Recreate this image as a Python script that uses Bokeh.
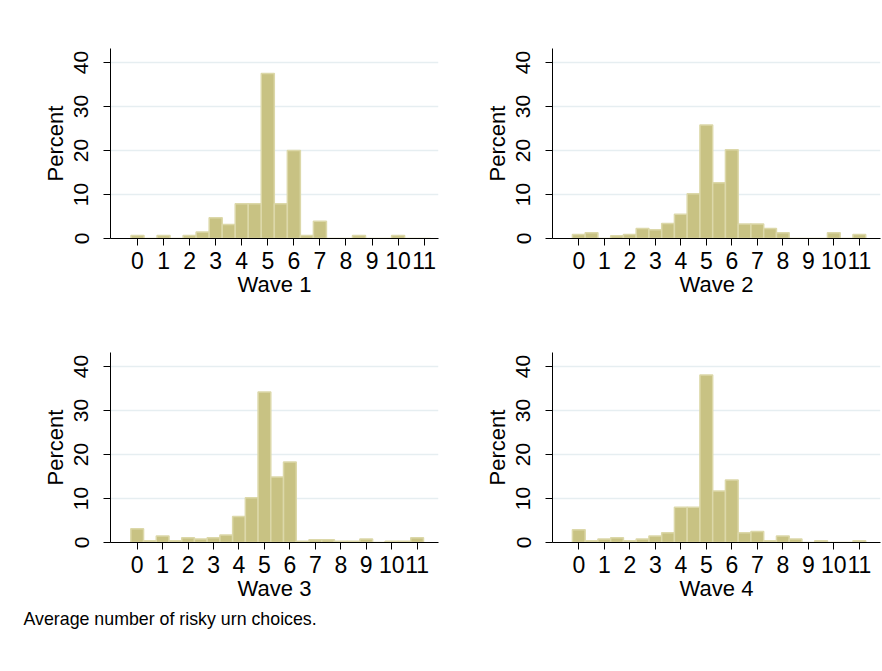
from bokeh.plotting import figure
from bokeh.models import Range1d, FixedTicker, Label
from bokeh.layouts import column, row
from bokeh.embed import file_html
from bokeh.resources import INLINE

# Bin centres (bin width 0.5) of the average number of risky urn choices
centers = [0, 0.5, 1, 1.5, 2, 2.5, 3, 3.5, 4, 4.5, 5, 5.5, 6, 6.5, 7, 7.5, 8, 8.5, 9, 9.5, 10, 10.5, 11]

wave1 = [0.7, 0, 0.7, 0, 0.7, 1.5, 4.7, 3.2, 7.9, 7.9, 37.5, 7.9, 20.0, 0.7, 3.9, 0, 0, 0.7, 0, 0, 0.7, 0, 0]
wave2 = [0.9, 1.3, 0, 0.6, 0.9, 2.3, 2.0, 3.4, 5.5, 10.2, 25.8, 12.7, 20.2, 3.3, 3.3, 2.3, 1.3, 0, 0, 0, 1.3, 0, 0.9]
wave3 = [3.1, 0.4, 1.5, 0.4, 1.1, 0.8, 1.1, 1.7, 5.9, 10.2, 34.2, 14.9, 18.3, 0.3, 0.6, 0.6, 0.3, 0.3, 0.8, 0, 0.3, 0.3, 1.1]
wave4 = [2.9, 0.4, 0.8, 1.1, 0.4, 0.8, 1.5, 2.2, 8.0, 8.0, 38.1, 11.7, 14.2, 2.2, 2.5, 0.4, 1.5, 0.8, 0, 0.4, 0, 0, 0.4]

titles = ["Wave 1", "Wave 2", "Wave 3", "Wave 4"]
x_ticks = list(range(0, 12))
y_ticks = [0, 10, 20, 30, 40]
y_label = "Percent"
caption = "Average number of risky urn choices."

FONT = "Liberation Sans"
BAR_FILL = "#C8C283"
BAR_LINE = "#DCD8A9"
GRID = "#E6EEF1"


def panel(vals, title, xr, w, h, bl, br, bt, bb):
    p = figure(width=w, height=h, x_range=Range1d(*xr), y_range=Range1d(0, 43.2),
               output_backend="svg", toolbar_location=None,
               min_border_left=bl, min_border_right=br,
               min_border_top=bt, min_border_bottom=bb)
    p.outline_line_color = None
    p.background_fill_color = "white"
    p.border_fill_color = "white"
    p.vbar(x=centers, top=vals, width=0.5, fill_color=BAR_FILL,
           line_color=BAR_LINE, line_width=1.5)
    p.xgrid.visible = False
    p.ygrid.ticker = FixedTicker(ticks=y_ticks)
    p.ygrid.grid_line_color = GRID
    p.ygrid.grid_line_width = 1.5

    xa = p.xaxis[0]
    xa.ticker = FixedTicker(ticks=x_ticks)
    xa.axis_label = title
    ya = p.yaxis[0]
    ya.ticker = FixedTicker(ticks=y_ticks)
    ya.axis_label = y_label
    ya.major_label_orientation = "parallel"
    for ax in (xa, ya):
        ax.axis_line_color = "black"
        ax.axis_line_width = 1
        ax.major_tick_line_color = "black"
        ax.major_tick_in = 0
        ax.major_tick_out = 7
        ax.minor_tick_line_color = None
        ax.major_label_text_font = FONT
        ax.major_label_text_color = "black"
        ax.axis_label_text_font = FONT
        ax.axis_label_text_font_style = "normal"
        ax.axis_label_text_color = "black"
        ax.axis_label_text_font_size = "22px"
    xa.major_label_text_font_size = "23px"
    ya.major_label_text_font_size = "21px"
    xa.major_label_standoff = 6
    xa.axis_label_standoff = 0
    ya.major_label_standoff = 15
    ya.axis_label_standoff = 4
    return p


r1 = (-1.036, 11.55)
r2 = (-1.031, 11.83)
r3 = (-1.049, 11.84)
r4 = (-1.031, 11.83)

p1 = panel(wave1, titles[0], r1, 441, 312, 110, 3, 48, 74)
p2 = panel(wave2, titles[1], r2, 441, 312, 111, 2, 48, 74)
p3 = panel(wave3, titles[2], r3, 441, 292, 110, 3, 40, 62)
p4 = panel(wave4, titles[3], r4, 441, 292, 111, 2, 40, 62)

# caption strip under the panels
cap = figure(width=882, height=67, x_range=Range1d(0, 882), y_range=Range1d(0, 67),
             output_backend="svg", toolbar_location=None,
             min_border_left=0, min_border_right=0, min_border_top=0, min_border_bottom=0)
cap.axis.visible = False
cap.grid.visible = False
cap.outline_line_color = None
cap.add_layout(Label(x=23, y=52.5, text=caption, text_font=FONT,
                     text_font_size="17.8px", text_color="black",
                     text_align="left", text_baseline="alphabetic"))

layout = column(row(p1, p2, spacing=0), row(p3, p4, spacing=0), cap, spacing=0)

open("out.html", "w").write(file_html(layout, INLINE))
